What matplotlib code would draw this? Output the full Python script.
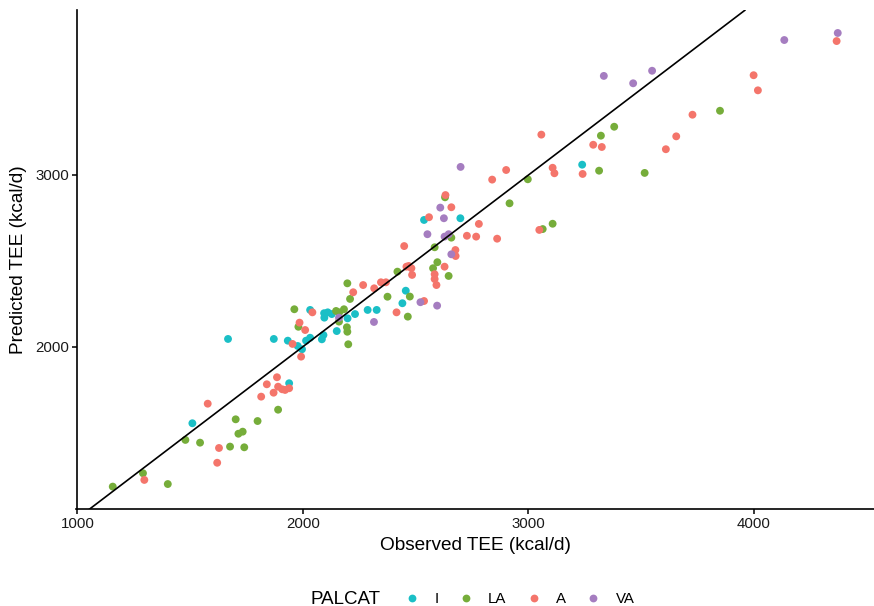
import numpy as np
import matplotlib
matplotlib.use("Agg")
import matplotlib.pyplot as plt
from matplotlib.lines import Line2D

plt.rcParams['font.family'] = ['Liberation Sans', 'DejaVu Sans']

categories = ["I", "LA", "A", "VA"]
colors = {"I": "#1ABFC6", "LA": "#76AD3A", "A": "#F4756B", "VA": "#A57DC0"}

obs_I = [2032, 2094, 2110, 2128, 2095, 2198, 2231, 2287, 2327, 2150, 2091, 2032, 2014,
         2084, 1933, 1977, 1996, 1668, 1871, 1939, 1510, 2456, 2441, 2537, 2698, 3238]
pred_I = [2214, 2195, 2200, 2190, 2169, 2165, 2190, 2214, 2214, 2091, 2068, 2052, 2035,
          2043, 2035, 2004, 1985, 2045, 2045, 1787, 1554, 2326, 2253, 2738, 2748, 3060]

obs_LA = [1962, 2147, 2161, 2182, 2160, 1980, 2195, 2197, 2201, 2209, 2197, 2375, 2474,
          2465, 2419, 2577, 2596, 2646, 2584, 2658, 2630, 2916, 2997, 3063, 3107, 3321,
          3380, 3313, 3515, 3849, 1890, 1702, 1799, 1714, 1733, 1479, 1544, 1677, 1740,
          1291, 1157, 1401]
pred_LA = [2218, 2208, 2200, 2218, 2146, 2116, 2113, 2087, 2014, 2278, 2369, 2291, 2292,
           2175, 2437, 2457, 2492, 2412, 2579, 2635, 2870, 2835, 2975, 2685, 2716, 3229,
           3281, 3025, 3012, 3374, 1633, 1577, 1567, 1493, 1505, 1457, 1441, 1418, 1414,
           1263, 1185, 1200]

obs_A = [2042, 1985, 2010, 1954, 1992, 1885, 1840, 1890, 1908, 1921, 1939, 1870, 1815,
         1578, 1628, 1620, 1297, 2267, 2316, 2346, 2368, 2223, 2415, 2537, 2459, 2469,
         2481, 2484, 2449, 2628, 2584, 2584, 2592, 2676, 2677, 2727, 2768, 2861, 2780,
         2559, 2658, 2632, 2839, 2901, 3048, 3107, 3115, 3057, 3240, 3287, 3325, 3609,
         3655, 3727, 3998, 4017, 4366]
pred_A = [2200, 2140, 2097, 2016, 1942, 1822, 1781, 1767, 1752, 1748, 1758, 1732, 1709,
          1668, 1410, 1324, 1224, 2359, 2340, 2375, 2375, 2317, 2200, 2266, 2466, 2470,
          2457, 2418, 2586, 2466, 2422, 2394, 2359, 2563, 2528, 2646, 2641, 2629, 2715,
          2754, 2812, 2883, 2973, 3029, 2680, 3042, 3010, 3235, 3006, 3176, 3163, 3150,
          3225, 3351, 3581, 3493, 3780]

obs_VA = [2160, 2315, 2521, 2595, 2552, 2628, 2646, 2658, 2625, 2609, 2699, 3334, 3464,
          3548, 4134, 4371]
pred_VA = [2169, 2144, 2259, 2239, 2655, 2641, 2655, 2538, 2748, 2810, 3047, 3577, 3534,
           3607, 3786, 3827]

series = {"I": (obs_I, pred_I), "LA": (obs_LA, pred_LA),
          "A": (obs_A, pred_A), "VA": (obs_VA, pred_VA)}

x_ticks = [1000, 2000, 3000, 4000]
y_ticks = [2000, 3000]

W, H = 874, 606
fig = plt.figure(figsize=(W / 100, H / 100), dpi=100)
ax = fig.add_axes([76.5 / W, (H - 509.3) / H, (W - 76.5) / W, (509.3 - 10.3) / H])

for cat in categories:
    xs, ys = series[cat]
    ax.scatter(xs, ys, s=32, color=colors[cat], edgecolors='none', zorder=3)

allx = np.concatenate([series[c][0] for c in categories])
ally = np.concatenate([series[c][1] for c in categories])
rx = allx.max() - allx.min()
ry = ally.max() - ally.min()
ax.set_xlim(allx.min() - 0.05 * rx, allx.max() + 0.05 * rx)
ax.set_ylim(ally.min() - 0.05 * ry, ally.max() + 0.05 * ry)

ax.axline((1000, 1000), slope=1, color='black', linewidth=1.2, zorder=4)

ax.set_xticks(x_ticks)
ax.set_yticks(y_ticks)
for s in ['top', 'right']:
    ax.spines[s].set_visible(False)
for s in ['left', 'bottom']:
    ax.spines[s].set_linewidth(1.2)
    ax.spines[s].set_color('black')
ax.tick_params(axis='both', direction='out', length=3.3, width=1.1, color='black',
               labelsize=10.8, labelcolor='#1a1a1a', pad=2.2)

ax.set_xlabel("Observed TEE (kcal/d)", fontsize=13.7, labelpad=4.5)
ax.set_ylabel("Predicted TEE (kcal/d)", fontsize=13.7, labelpad=5.5)

fig.text(310 / W, 1 - 599 / H, "PALCAT", fontsize=13.5, ha='left', va='center')
handles = [Line2D([], [], marker='o', linestyle='none', markersize=5.6,
                  markerfacecolor=colors[c], markeredgecolor='none') for c in categories]
fig.legend(handles, categories, loc='center left',
           bbox_to_anchor=(404.5 / W, 1 - 599 / H), ncol=4, frameon=False,
           fontsize=10.8, handlelength=1.0, handletextpad=1.0, columnspacing=1.3,
           borderpad=0, borderaxespad=0)

fig.savefig("out.png", dpi=100)
